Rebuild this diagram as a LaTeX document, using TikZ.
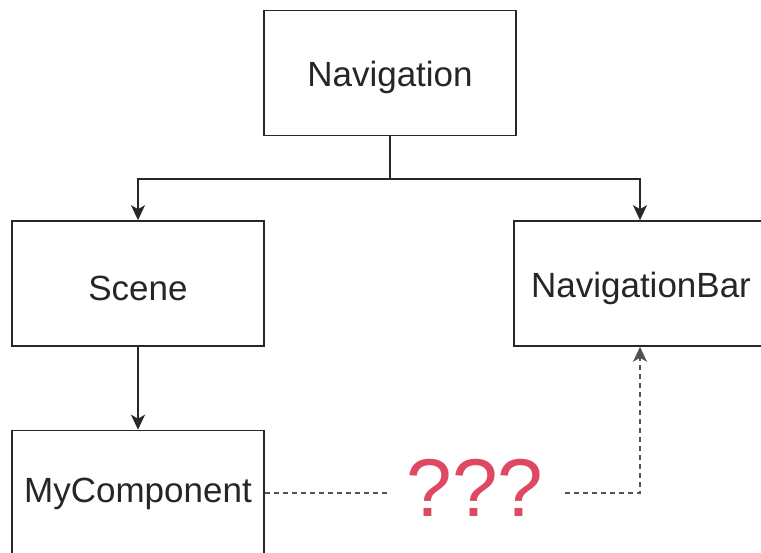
\documentclass[tikz,border=0pt]{standalone}
\usepackage{fontspec}
\setmainfont{Liberation Sans}
\usetikzlibrary{arrows.meta}
\definecolor{qred}{RGB}{222,72,98}
\definecolor{lne}{RGB}{40,40,40}
\begin{document}
\begin{tikzpicture}[x=1pt,y=-1pt,
  box/.style={draw=lne,line width=1.6pt,minimum width=252pt,minimum height=125pt,inner sep=0pt,font=\fontsize{35}{40}\selectfont,text=black!85},
  lbl/.style={inner sep=0pt,font=\fontsize{35}{40}\selectfont,text=black!85},
  conn/.style={draw=lne,line width=1.4pt,-{Stealth[length=15pt,width=14pt,inset=4pt]}},
  dconn/.style={draw=lne!80,line width=1.3pt,dash pattern=on 5pt off 4pt}]
\useasboundingbox (0,0) rectangle (761,553);
\clip (0,0) rectangle (761,553);
\fill[white] (0,0) rectangle (761,553);
\node[box] (nav) at (390,73) {};
\node[box] (scene) at (138,283.5) {};
\node[box] (bar) at (640,283.5) {};
\node[box] (my) at (138,493) {};
\node[lbl] (navt) at (390,77) {Navigation};
\node[lbl] (scenet) at (138,288) {Scene};
\node[lbl] (bart) at (641,288) {NavigationBar};
\node[lbl] (myt) at (138,494) {MyComponent};
\node[text=qred,font=\fontsize{82}{90}\selectfont,inner sep=0pt] (q) at (475,488) {???};
\coordinate (split) at (390,179);
\draw[draw=lne,line width=1.4pt] (nav.south) -- (split);
\draw[conn] (split) -| (scene.north);
\draw[conn] (split) -| (bar.north);
\draw[conn] (scene.south) -- (my.north);
\coordinate (lq) at (390,493);
\coordinate (rq) at (565,493);
\draw[dconn] (my.east) -- (lq);
\draw[dconn,-{Stealth[length=15pt,width=14pt,inset=4pt]}] (rq) -| (bar.south);
\end{tikzpicture}
\end{document}
